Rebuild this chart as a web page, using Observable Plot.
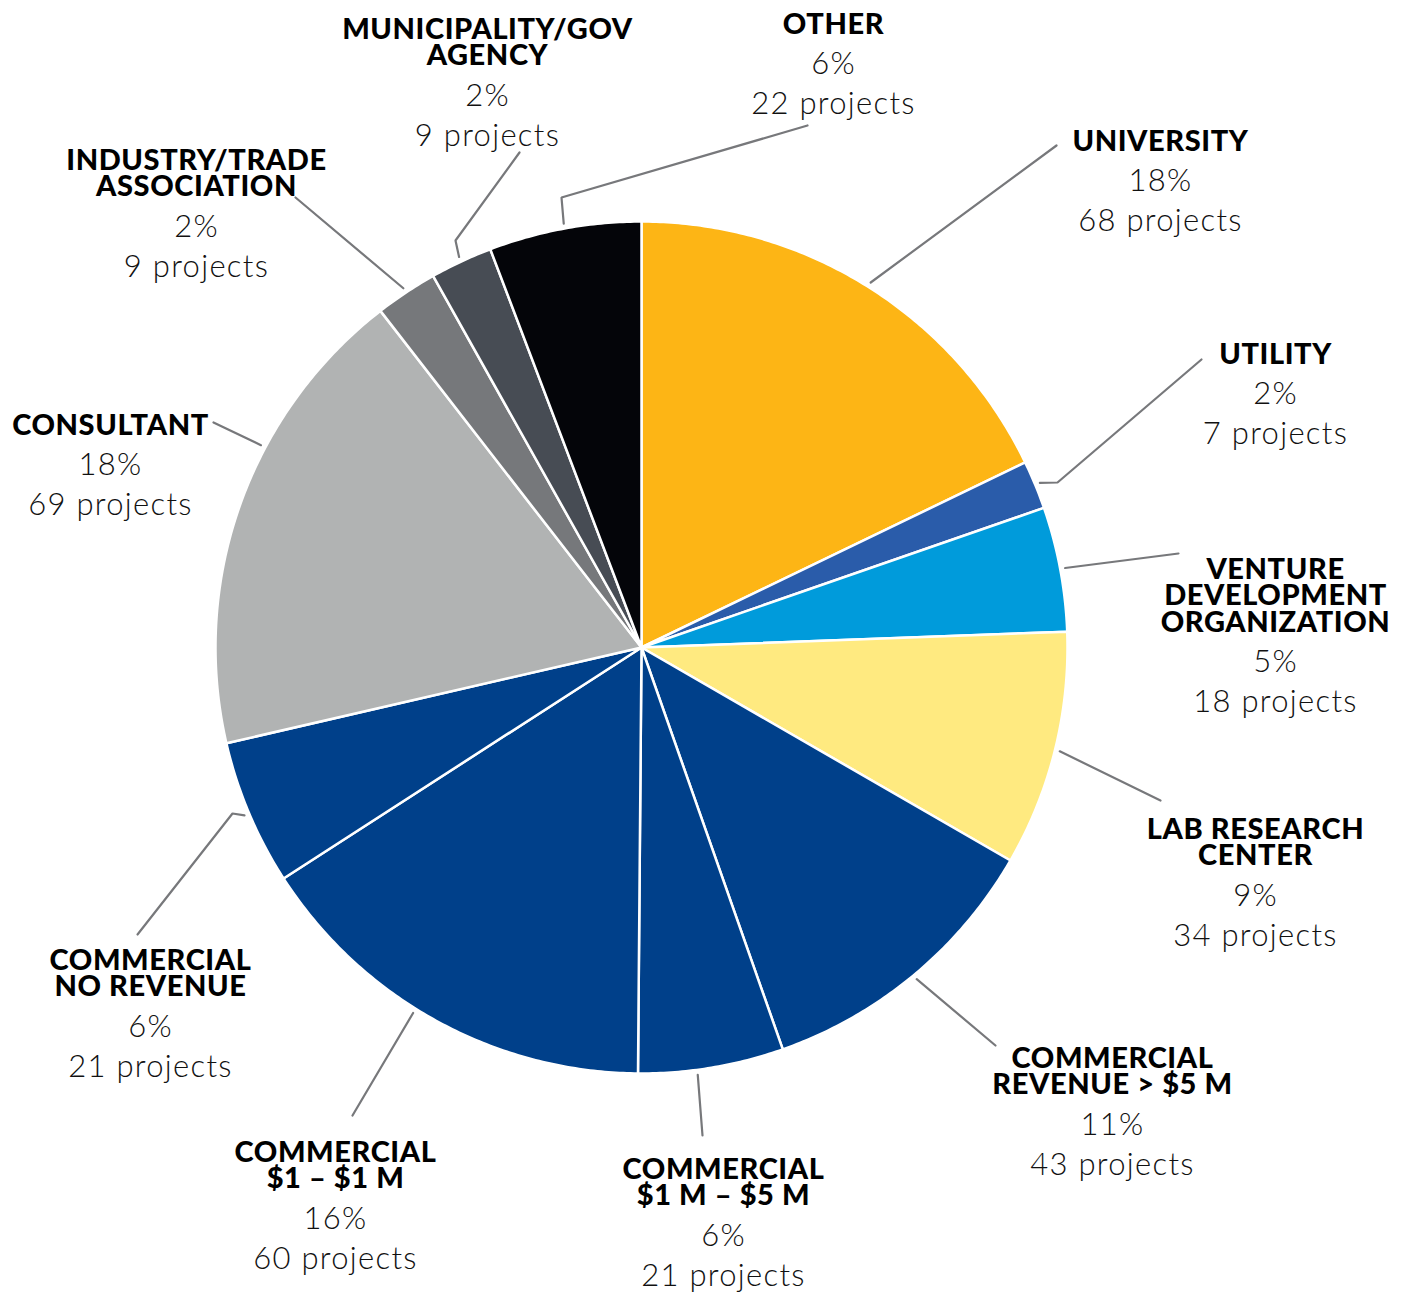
<!DOCTYPE html>
<html>
<head>
<meta charset="utf-8">
<script src="https://cdn.jsdelivr.net/npm/d3@7"></script>
<script src="https://cdn.jsdelivr.net/npm/@observablehq/plot@0.6"></script>
<style>
  html, body { margin: 0; padding: 0; background: #ffffff; }
  #chart svg { display: block; }
</style>
</head>
<body>
<div id="chart"></div>
<script>
// ---------- data ----------
const categories = [
  "University", "Utility", "Venture Development Organization", "Lab Research Center",
  "Commercial Revenue > $5 M", "Commercial $1 M – $5 M", "Commercial $1 – $1 M",
  "Commercial No Revenue", "Consultant", "Industry/Trade Association",
  "Municipality/Gov Agency", "Other"
];
const headers = [
  "UNIVERSITY", "UTILITY", "VENTURE\nDEVELOPMENT\nORGANIZATION", "LAB RESEARCH\nCENTER",
  "COMMERCIAL\nREVENUE > $5 M", "COMMERCIAL\n$1 M – $5 M", "COMMERCIAL\n$1 – $1 M",
  "COMMERCIAL\nNO REVENUE", "CONSULTANT", "INDUSTRY/TRADE\nASSOCIATION",
  "MUNICIPALITY/GOV\nAGENCY", "OTHER"
];
const projects = [68, 7, 18, 34, 43, 21, 60, 21, 69, 9, 9, 22];
const percents = [18, 2, 5, 9, 11, 6, 16, 6, 18, 2, 2, 6];
const colors = [
  "#fdb515", "#2a5caa", "#009bdb", "#ffea80",
  "#00408a", "#00408a", "#00408a", "#00408a",
  "#b1b3b3", "#76787b", "#474c54", "#040509"
];

// ---------- layout (offsets from pie centre, y up; pie radius 426) ----------
const R = 426;
const HEAD_LH = 26.8;   // header line spacing (px)
const NUM_LH = 40;      // number line spacing (px)
const labelAt = [
  [519, 506], [634, 293], [634, 78], [614, -182],
  [471, -411], [82, -522], [-306, -505], [-491, -313],
  [-531, 222], [-445, 487], [-154, 618], [192, 623]
];
const leaderStartAngle = [null, null, null, null, null, 172.5, 212, null, 298, null, null, null];
const leaderPoints = [
  [[415, 502]],
  [[416, 165], [560, 288]],
  [[537, 94]],
  [[519, -153]],
  [[354, -398]],
  [[61, -488]],
  [[-289, -468]],
  [[-409, -166], [-504, -287]],
  [[-428, 225]],
  [[-346, 450]],
  [[-186, 407], [-122, 495]],
  [[-80, 450], [166, 522]]
];

// ---------- derived geometry ----------
const total = d3.sum(projects);
const toRad = (deg) => deg * Math.PI / 180;
const polar = (deg, r) => [r * Math.sin(toRad(deg)), r * Math.cos(toRad(deg))];

const slices = [];
let cum = 0;
categories.forEach((c, i) => {
  const a0 = cum / total * 360;
  cum += projects[i];
  const a1 = cum / total * 360;
  slices.push({name: c, a0, a1, mid: (a0 + a1) / 2, color: colors[i]});
});

const piePts = [];
slices.forEach((s) => {
  piePts.push({z: s.name, x: 0, y: 0, fill: s.color});
  const n = Math.max(2, Math.ceil((s.a1 - s.a0) / 0.5));
  for (let k = 0; k <= n; k++) {
    const a = s.a0 + (s.a1 - s.a0) * k / n;
    const [x, y] = polar(a, R);
    piePts.push({z: s.name, x, y, fill: s.color});
  }
});

const leaderPts = [];
slices.forEach((s, i) => {
  const ang = leaderStartAngle[i] ?? s.mid;
  const [x0, y0] = polar(ang, R + 5);
  leaderPts.push({z: s.name, x: x0, y: y0});
  leaderPoints[i].forEach(([x, y]) => leaderPts.push({z: s.name, x, y}));
});

const headBlocks = [];
const numBlocks = [];
categories.forEach((c, i) => {
  const [lx, ly] = labelAt[i];
  const n = headers[i].split("\n").length;
  headBlocks.push({x: lx, y: ly - (n - 1) / 2 * HEAD_LH - 0.5, text: headers[i]});
  const base = ly - (n - 1) * HEAD_LH - 36.5;
  numBlocks.push({x: lx, y: base - NUM_LH / 2, text: `${percents[i]}%\n${projects[i]} projects`});
});

// ---------- plot ----------
const chart = Plot.plot({
  width: 1410,
  height: 1295,
  margin: 0,
  x: {domain: [-641, 769], axis: null},
  y: {domain: [-648, 647], axis: null},
  color: {type: "identity"},
  style: {background: "#ffffff"},
  marks: [
    Plot.line(piePts, {
      x: "x", y: "y", z: "z", fill: "fill",
      stroke: "#ffffff", strokeWidth: 2.5, strokeLinejoin: "round",
      curve: "linear-closed"
    }),
    Plot.line(leaderPts, {
      x: "x", y: "y", z: "z",
      stroke: "#77787b", strokeWidth: 2.2, strokeLinejoin: "miter"
    }),
    Plot.text(headBlocks, {
      x: "x", y: "y", text: "text",
      fontFamily: "Lato", fontWeight: 900, fontSize: 29,
      lineHeight: HEAD_LH / 29,
      fill: "#000000", textAnchor: "middle", lineAnchor: "middle"
    }),
    Plot.text(numBlocks, {
      x: "x", y: "y", text: "text",
      fontFamily: "Lato", fontWeight: 300, fontSize: 31,
      lineHeight: NUM_LH / 31,
      fill: "#111111", textAnchor: "middle", lineAnchor: "middle"
    })
  ]
});
const textGroups = chart.querySelectorAll('g[aria-label="text"]');
if (textGroups[0]) textGroups[0].setAttribute("letter-spacing", "0.6");
if (textGroups[1]) textGroups[1].setAttribute("letter-spacing", "1.3");
document.getElementById("chart").appendChild(chart);
</script>
</body>
</html>
